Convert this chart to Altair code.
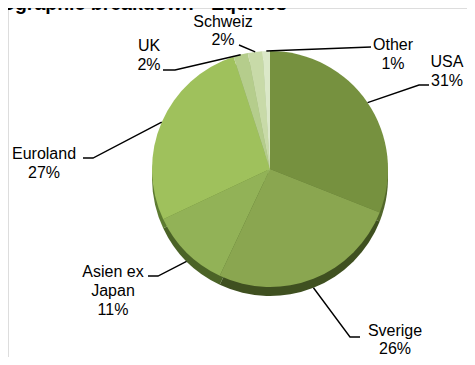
import math
import altair as alt
import pandas as pd

# ---- data ----
categories = ["USA", "Sverige", "Asien ex Japan", "Euroland", "UK", "Schweiz", "Other"]
shares = [31, 26, 11, 27, 2, 2, 1]
label_names = ["USA", "Sverige", "Asien ex\nJapan", "Euroland", "UK", "Schweiz", "Other"]
title_text = "Geographic breakdown - Equities"

# ---- styles ----
top_colors = ["#76913f", "#8aa650", "#92b257", "#9fc15c", "#b5cd8c", "#c8daa8", "#dbe8c8"]
side_colors = ["#52672b", "#3f5020", "#4b6327", "#5d7b31", "#7f9a55", "#8fa86a", "#a0b580"]
FONT = "Liberation Sans"

# ---- layout (page pixels; svg origin is at page 8,8) ----
OFF = 8
W, H = 475 - 2 * OFF, 365 - 2 * OFF
CX, CY = 270 - OFF, 169 - OFF
R = 118
DEPTH = 9
# first-line centre of each label
label_pos = [(447, 62), (395, 331), (113, 272), (44, 154), (149, 46), (223, 22), (393, 45)]
label_lh = [19, 18, 19, 19, 19, 18, 19]
# elbow and end of each leader line (label side)
leader_ends = [
    [(419, 85), (429, 85)],
    [(350, 337), (360, 337)],
    [(158, 276), (148, 276)],
    [(93, 158), (83, 158)],
    [(175, 70), (163, 70)],
    [(239, 45)],
    [(371, 47)],
]

# ---- pie data ----
pie = pd.DataFrame({
    "cat": categories,
    "share": shares,
    "idx": list(range(len(categories))),
})

side = alt.Chart(pie).mark_arc(radius=R, strokeWidth=0).encode(
    theta=alt.Theta("share:Q", stack=True),
    order=alt.Order("idx:Q"),
    color=alt.Color("cat:N", scale=alt.Scale(domain=categories, range=side_colors), legend=None),
    x=alt.value(CX),
    y=alt.value(CY + DEPTH),
)
top = alt.Chart(pie).mark_arc(radius=R, strokeWidth=0).encode(
    theta=alt.Theta("share:Q", stack=True),
    order=alt.Order("idx:Q"),
    fill=alt.Fill("cat:N", scale=alt.Scale(domain=categories, range=top_colors), legend=None),
    x=alt.value(CX),
    y=alt.value(CY),
)

# ---- leader lines: start on the pie edge at each slice's mid angle ----
total = sum(shares)
rows_lines = []
rows_text = []
cum = 0
for i, (cat, s) in enumerate(zip(categories, shares)):
    mid = (cum + s / 2) / total * 2 * math.pi
    cum += s
    ax = CX + R * math.sin(mid)
    ay = CY - R * math.cos(mid)
    if math.cos(mid) < 0:
        ay += DEPTH
    pts = [(ax, ay)] + [(px - OFF, py - OFF) for px, py in leader_ends[i]]
    for k, (px, py) in enumerate(pts):
        rows_lines.append({"cat": cat, "k": k, "x": px, "y": py})
    lines = label_names[i].split("\n") + [f"{s}%"]
    lx, ly = label_pos[i]
    for j, t in enumerate(lines):
        rows_text.append({"cat": cat, "t": t, "x": lx - OFF, "y": ly - OFF + j * label_lh[i]})

xs = alt.Scale(domain=[0, W], range=[0, W])
ys = alt.Scale(domain=[0, H], range=[0, H])

leaders = alt.Chart(pd.DataFrame(rows_lines)).mark_line(
    color="black", strokeWidth=1.4
).encode(
    x=alt.X("x:Q", scale=xs, axis=None),
    y=alt.Y("y:Q", scale=ys, axis=None),
    detail="cat:N",
    order="k:Q",
)

labels = alt.Chart(pd.DataFrame(rows_text)).mark_text(
    font=FONT, fontSize=16, color="black", align="center", baseline="middle"
).encode(
    x=alt.X("x:Q", scale=xs, axis=None),
    y=alt.Y("y:Q", scale=ys, axis=None),
    text="t:N",
)

title = alt.Chart(pd.DataFrame({"t": [title_text]})).mark_text(
    font=FONT, fontSize=19.5, fontWeight="bold", color="black",
    align="left", baseline="alphabetic"
).encode(
    x=alt.value(-23 - OFF),
    y=alt.value(2),
    text="t:N",
)

chart = alt.layer(side, top, leaders, labels, title).resolve_scale(
    color="independent", fill="independent"
).properties(
    width=W, height=H, padding=0, autosize=alt.AutoSizeParams(type="none")
).configure_view(strokeWidth=0, stroke="transparent").configure_axis(
    domain=False, ticks=False, labels=False, grid=False
).configure(background="white")

chart.save("out.html", embed_options={"renderer": "svg", "actions": False})
